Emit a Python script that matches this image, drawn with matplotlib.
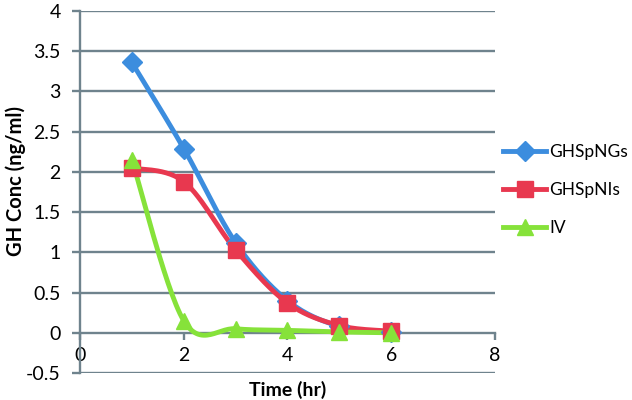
import numpy as np
import matplotlib.pyplot as plt

plt.rcParams['font.family'] = ['Lato', 'DejaVu Sans']

time_hr = [1, 2, 3, 4, 5, 6]
ghspngs = [3.36, 2.29, 1.12, 0.40, 0.08, 0.01]
ghspnis = [2.05, 1.88, 1.03, 0.37, 0.09, 0.02]
iv = [2.15, 0.15, 0.05, 0.03, 0.01, 0.00]

y_ticks = [-0.5, 0, 0.5, 1, 1.5, 2, 2.5, 3, 3.5, 4]
x_ticks = [0, 2, 4, 6, 8]


def smooth(x, y, n=30):
    # excel-like smoothed line (catmull-rom as bezier)
    p = np.column_stack([x, y]).astype(float)
    p = np.vstack([p[0], p, p[-1]])
    out = []
    for i in range(1, len(p) - 2):
        p0, p1, p2, p3 = p[i - 1], p[i], p[i + 1], p[i + 2]
        b1 = p1 + (p2 - p0) / 6
        b2 = p2 - (p3 - p1) / 6
        t = np.linspace(0, 1, n)[:, None]
        seg = (1 - t)**3 * p1 + 3 * (1 - t)**2 * t * b1 + 3 * (1 - t) * t**2 * b2 + t**3 * p2
        out.append(seg)
    out = np.vstack(out)
    return out[:, 0], out[:, 1]


fig = plt.figure(figsize=(6.32, 4), dpi=100)
ax = fig.add_axes([0.1266, 0.0675, 0.6566, 0.905])

grid_c = '#6F838D'
series = [
    (ghspngs, 'GHSpNGs', '#3C8DDE', 'D', 10),
    (ghspnis, 'GHSpNIs', '#E8384F', 's', 11),
    (iv, 'IV', '#86E23A', '^', 12),
]
for vals, name, c, m, ms in series:
    sx, sy = smooth(time_hr, vals)
    ax.plot(sx, sy, color=c, lw=3.5, solid_capstyle='round', zorder=3)
    ax.plot(time_hr, vals, ls='none', marker=m, ms=ms, color=c, zorder=4)
    ax.plot([], [], color=c, lw=3.5, marker=m, ms=ms, label=name)

ax.set_xlim(0, 8)
ax.set_ylim(-0.5, 4)
ax.set_yticks(y_ticks)
ax.set_yticklabels(['-0.5', '0', '0.5', '1', '1.5', '2', '2.5', '3', '3.5', '4'])
ax.set_xticks(x_ticks)
ax.set_xticklabels(['0', '2', '4', '6', '8'])

for yv in y_ticks:
    if yv != 0:
        ax.axhline(yv, color=grid_c, lw=1.7, zorder=1)

for s in ['top', 'right']:
    ax.spines[s].set_visible(False)
ax.spines['left'].set_color(grid_c)
ax.spines['left'].set_linewidth(1.7)
ax.spines['bottom'].set_position(('data', 0))
ax.spines['bottom'].set_color(grid_c)
ax.spines['bottom'].set_linewidth(1.7)
ax.tick_params(axis='y', length=6, width=1.7, color=grid_c, labelsize=14, pad=8)
ax.tick_params(axis='x', length=5, width=1.7, color=grid_c, labelsize=14, pad=5)

ax.set_ylabel('GH Conc (ng/ml)', fontsize=14.5, fontweight='bold', va='center')
ax.yaxis.set_label_coords(-0.155, 0.53)
ax.set_xlabel('Time (hr)', fontsize=14, fontweight='bold', va='center')
ax.xaxis.set_label_coords(0.5, -0.047)

ax.legend(loc='center left', bbox_to_anchor=(0.99, 0.505), frameon=False,
          fontsize=12.5, handlelength=2.5, handletextpad=0.15, labelspacing=1.25,
          borderaxespad=0.3)

fig.savefig('out.png', dpi=100)
